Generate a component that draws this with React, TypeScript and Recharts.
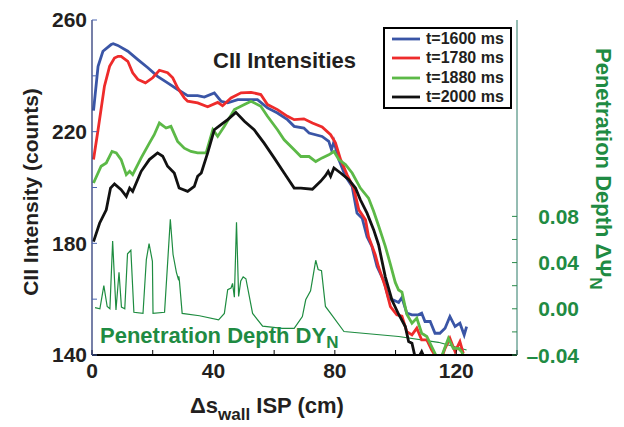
import React from 'react';
import { LineChart, Line, XAxis, YAxis, Legend } from 'recharts';

// [x (cm), counts]
const t1600: [number, number][] = [
  [0.5, 227.5], [2.0, 243.4], [3.6, 248.8], [6.3, 251.2], [7.0, 251.5], [8.5, 250.9], [11.8, 248.8],
  [15.1, 245.8], [18.4, 242.9], [21.6, 239.8], [24.9, 237.5], [28.2, 235.1], [31.5, 232.9], [34.8, 232.9],
  [37.0, 232.4], [40.3, 233.9], [42.5, 230.9], [44.7, 230.3], [48.0, 231.5], [51.3, 231.5], [54.5, 231.5],
  [57.8, 228.5], [61.1, 226.7], [64.4, 224.3], [66.6, 221.9], [69.8, 221.3], [71.5, 219.5], [75.8, 218.3],
  [78.0, 216.5], [78.9, 213.5], [79.7, 216.5], [81.3, 210.0], [83.5, 204.0], [85.7, 200.4], [87.3, 190.8],
  [89.0, 189.0], [90.6, 182.4], [92.2, 178.9], [93.9, 171.7], [96.1, 166.6], [97.7, 160.3], [99.3, 159.7],
  [101.0, 158.8], [102.1, 160.6], [103.7, 155.0], [105.4, 154.4], [107.5, 154.4], [108.6, 155.0],
  [109.7, 152.0], [111.4, 152.0], [113.0, 147.8], [114.6, 147.8], [116.3, 149.6], [117.9, 153.8],
  [119.6, 150.2], [121.2, 151.4], [122.6, 147.2], [123.4, 150.2],
];

const t1780: [number, number][] = [
  [0.5, 210.0], [2.0, 220.7], [4.1, 236.3], [5.8, 243.4], [7.4, 246.4], [8.6, 247.0], [9.6, 247.0],
  [11.8, 245.2], [13.4, 241.1], [15.1, 238.7], [17.6, 237.5], [20.0, 239.3], [22.2, 242.0], [24.9, 241.1],
  [26.6, 239.3], [28.2, 235.7], [30.4, 232.1], [31.5, 230.9], [34.8, 230.3], [38.1, 228.9], [41.4, 230.5],
  [43.0, 229.3], [45.8, 232.1], [49.1, 233.9], [52.4, 234.1], [55.6, 233.3], [57.8, 229.7], [61.1, 227.9],
  [64.4, 225.5], [66.6, 224.3], [69.8, 224.6], [72.6, 223.1], [75.8, 221.7], [78.6, 218.9], [80.2, 216.0],
  [81.9, 210.0], [84.0, 204.6], [86.2, 199.8], [87.9, 192.0], [90.1, 188.4], [91.1, 182.4], [93.3, 175.9],
  [94.4, 171.5], [96.6, 164.5], [98.3, 157.3], [100.4, 154.4], [102.1, 153.9], [103.7, 148.4],
  [105.4, 147.2], [107.0, 149.6], [108.6, 145.4], [110.3, 145.4], [111.9, 141.8], [113.5, 139.0],
  [115.2, 139.0], [116.3, 142.4], [117.9, 146.0], [119.6, 141.2], [121.2, 144.8], [122.3, 140.6],
];

const t1880: [number, number][] = [
  [0.5, 201.6], [3.0, 207.6], [4.7, 208.8], [6.6, 212.9], [8.0, 212.4], [9.6, 210.0], [11.3, 204.6],
  [12.4, 205.8], [13.4, 204.6], [16.2, 210.6], [18.9, 215.9], [20.5, 218.9], [22.2, 223.1], [24.4, 221.3],
  [26.0, 221.9], [28.2, 216.5], [30.4, 214.1], [32.6, 212.9], [34.8, 212.4], [37.6, 212.4], [39.8, 220.7],
  [41.4, 218.3], [43.6, 221.9], [46.9, 227.9], [50.2, 229.7], [52.4, 230.9], [55.6, 229.1], [57.8, 225.5],
  [61.1, 220.7], [63.3, 217.1], [66.6, 213.5], [68.8, 211.1], [71.5, 211.1], [73.7, 209.3], [75.8, 210.6],
  [78.0, 211.7], [79.7, 212.9], [81.3, 210.0], [83.5, 208.2], [85.7, 205.2], [88.4, 199.8], [91.1, 196.2],
  [92.8, 191.4], [94.4, 186.3], [96.6, 179.0], [98.3, 172.5], [99.9, 166.0], [101.0, 163.3], [102.1, 162.5],
  [103.7, 154.6], [105.4, 151.4], [107.0, 153.2], [108.6, 147.8], [110.3, 146.6], [111.9, 143.0],
  [113.5, 139.4], [115.2, 139.6], [117.4, 146.0], [119.0, 142.4], [120.7, 142.4], [121.7, 141.2], [122.6, 139.4],
];

const t2000: [number, number][] = [
  [0.5, 180.6], [2.5, 187.2], [4.7, 192.0], [6.1, 199.8], [7.4, 201.3], [9.6, 199.2], [11.3, 196.8],
  [12.4, 199.8], [13.4, 198.6], [16.2, 205.8], [18.9, 210.0], [21.6, 212.4], [23.3, 211.2], [24.9, 207.6],
  [27.1, 205.2], [28.7, 199.8], [31.5, 198.6], [33.7, 200.4], [34.8, 204.0], [36.0, 205.2], [38.1, 212.4],
  [40.3, 220.7], [42.5, 222.5], [44.7, 224.3], [47.4, 226.9], [50.2, 223.7], [53.4, 220.7], [56.7, 215.9],
  [60.0, 210.6], [63.3, 205.2], [66.6, 199.8], [68.8, 199.8], [72.6, 199.4], [75.3, 202.2], [76.9, 204.2],
  [77.8, 205.8], [78.6, 204.0], [79.7, 207.0], [81.9, 205.2], [84.6, 202.8], [86.8, 199.8], [88.4, 195.6],
  [90.6, 190.8], [92.8, 184.8], [94.4, 179.5], [96.6, 168.1], [98.8, 159.7], [101.0, 154.6], [103.2, 150.2],
  [104.3, 144.8], [105.4, 144.2], [106.4, 139.4], [107.5, 139.0], [108.6, 141.2], [109.7, 138.5],
];

// [x (cm), penetration depth ΔΨN]
const depth: [number, number][] = [
  [1.0, 0.001], [2.6, 0.0], [3.9, 0.02], [5.0, 0.002], [5.9, 0.0], [6.8, 0.0586], [7.9, -0.001],
  [8.9, 0.0316], [9.7, 0.0015], [10.8, 0.0], [11.7, 0.0476], [12.8, 0.0507], [13.8, -0.003], [16.8, -0.004],
  [17.9, 0.0426], [18.8, 0.0565], [19.9, 0.041], [20.1, -0.004], [23.9, -0.003], [25.8, 0.0774],
  [26.7, 0.047], [27.8, 0.0316], [28.4, 0.026], [28.6, 0.028], [28.8, 0.024], [29.7, -0.004],
  [35.4, -0.006], [41.7, -0.0096], [43.6, -0.004], [44.7, 0.0165], [45.8, 0.018], [46.3, 0.022],
  [46.9, 0.01], [47.6, 0.075], [48.3, 0.0107], [49.0, 0.024], [49.8, 0.0276], [50.7, 0.026],
  [52.9, -0.004], [56.2, -0.015], [62.7, -0.017], [66.6, -0.017], [69.3, -0.0067], [70.4, 0.0078],
  [72.0, 0.0155], [73.7, 0.042], [74.5, 0.034], [75.6, 0.033], [76.9, 0.002], [78.6, -0.004],
  [83.0, -0.0197], [101.0, -0.024], [114.1, -0.029], [123.4, -0.0357],
];

const xTicks = [0, 20, 40, 60, 80, 100, 120, 140];
const leftTicks = [140, 160, 180, 200, 220, 240, 260];
const rightTicks = [-0.04, -0.02, 0, 0.02, 0.04, 0.06, 0.08];

const INK = '#231f20';
const GREEN_TXT = '#1f8b43';
const FONT = '"Liberation Sans", Arial, Helvetica, sans-serif';

const pts = (arr: [number, number][]) => arr.map(([x, y]) => ({ x, y }));

const fmtRight = (v: number) => {
  if (v === 0) return '0.00';
  return v < 0 ? '\u2013' + Math.abs(v).toFixed(2) : v.toFixed(2);
};

const RightTick = (props: any) => {
  const { x, y, payload } = props;
  const v = payload.value as number;
  if (Math.round(v * 100) % 4 !== 0) return null;
  return (
    <text x={x} y={y} dy="0.36em" textAnchor="end" fontSize={21} fontWeight="bold" fill={GREEN_TXT} fontFamily={FONT}>
      {fmtRight(v)}
    </text>
  );
};

const LegendBox = (props: any) => {
  const items = (props.payload || []).filter((p: any) => p.type !== 'none');
  return (
    <div style={{ border: '2px solid #000', background: '#fff', boxSizing: 'border-box', width: 129, height: 82 }}>
      {items.map((p: any) => (
        <div key={p.value} style={{ display: 'flex', alignItems: 'center', height: 19.5 }}>
          <svg width={28} height={6} style={{ marginLeft: 7, marginRight: 6 }}>
            <line x1={0} y1={3} x2={28} y2={3} stroke={p.color} strokeWidth={2.8} />
          </svg>
          <span style={{ fontSize: 16, fontWeight: 'bold', color: INK, fontFamily: FONT, lineHeight: 1 }}>{p.value}</span>
        </div>
      ))}
    </div>
  );
};

export default function App() {
  return (
    <div style={{ position: 'absolute', left: 0, top: 0, width: 624, height: 427, background: '#fff', fontFamily: FONT }}>
      <LineChart width={624} height={427} margin={{ top: 20, right: 0, bottom: 0, left: 0 }}>
        <XAxis
          xAxisId="b"
          type="number"
          dataKey="x"
          domain={[0, 140]}
          ticks={xTicks}
          allowDataOverflow
          height={72}
          tickSize={-5}
          tickMargin={13}
          tickFormatter={(v: number) => (v % 40 === 0 && v <= 120 ? String(v) : '')}
          axisLine={{ stroke: '#000', strokeWidth: 2 }}
          tickLine={{ stroke: '#000' }}
          tick={{ fontSize: 21, fontWeight: 'bold', fill: INK, fontFamily: FONT }}
        />
        <XAxis
          xAxisId="t"
          orientation="top"
          type="number"
          dataKey="x"
          domain={[0, 140]}
          ticks={xTicks}
          height={0}
          tickSize={-5}
          tick={false}
          axisLine={{ stroke: '#000' }}
          tickLine={{ stroke: '#000' }}
        />
        <YAxis
          yAxisId="l"
          domain={[140, 260]}
          ticks={leftTicks}
          allowDataOverflow
          width={92}
          tickSize={-5}
          tickMargin={10}
          tickFormatter={(v: number) => ((v - 140) % 40 === 0 ? String(v) : '')}
          axisLine={{ stroke: '#1c2a6e', strokeWidth: 1.2 }}
          tickLine={{ stroke: '#4a64b0' }}
          tick={{ fontSize: 21, fontWeight: 'bold', fill: INK, fontFamily: FONT }}
        />
        <YAxis
          yAxisId="lm"
          orientation="right"
          domain={[140, 260]}
          ticks={leftTicks}
          width={0}
          tickSize={-5}
          tick={false}
          axisLine={false}
          tickLine={{ stroke: '#4a64b0' }}
        />
        <YAxis
          yAxisId="r"
          orientation="right"
          domain={[-0.04, 0.25]}
          ticks={rightTicks}
          allowDataOverflow
          width={107}
          tickSize={-5}
          tickMargin={67}
          tick={<RightTick />}
          axisLine={{ stroke: '#2b7a66' }}
          tickLine={{ stroke: '#2b8a4a' }}
        />
        <Legend
          layout="vertical"
          align="center"
          verticalAlign="middle"
          wrapperStyle={{ top: 27, left: 383, width: 129, height: 82 }}
          content={<LegendBox />}
        />
        <Line
          xAxisId="b" yAxisId="r" data={pts(depth)} dataKey="y" name="depth" legendType="none"
          type="linear" dot={false} stroke="#1e8c40" strokeWidth={1.2} isAnimationActive={false}
        />
        <Line
          xAxisId="b" yAxisId="l" data={pts(t1600)} dataKey="y" name="t=1600 ms"
          type="linear" dot={false} stroke="#3a55a6" strokeWidth={2.8} isAnimationActive={false}
        />
        <Line
          xAxisId="b" yAxisId="l" data={pts(t1780)} dataKey="y" name="t=1780 ms"
          type="linear" dot={false} stroke="#ee2b2b" strokeWidth={2.8} isAnimationActive={false}
        />
        <Line
          xAxisId="b" yAxisId="l" data={pts(t1880)} dataKey="y" name="t=1880 ms"
          type="linear" dot={false} stroke="#5cb947" strokeWidth={2.8} isAnimationActive={false}
        />
        <Line
          xAxisId="b" yAxisId="l" data={pts(t2000)} dataKey="y" name="t=2000 ms"
          type="linear" dot={false} stroke="#111111" strokeWidth={2.8} isAnimationActive={false}
        />
        <text x={213} y={68} fontSize={22} fontWeight="bold" fill={INK} fontFamily={FONT}>CII Intensities</text>
        <text x={100} y={343} fontSize={22} fontWeight="bold" fill={GREEN_TXT} fontFamily={FONT}>
          Penetration Depth DY<tspan fontSize={17} dy={5}>N</tspan>
        </text>
        <text x={190} y={413} fontSize={22} fontWeight="bold" fill={INK} fontFamily={FONT}>
          Δs<tspan fontSize={17} dy={7}>wall</tspan><tspan dy={-7}> ISP (cm)</tspan>
        </text>
        <text
          transform="translate(38,192) rotate(-90)" textAnchor="middle"
          fontSize={21} fontWeight="bold" fill={INK} fontFamily={FONT}
        >
          CII Intensity (counts)
        </text>
        <text
          transform="translate(596,48) rotate(90)"
          fontSize={22} fontWeight="bold" fill={GREEN_TXT} fontFamily={FONT}
        >
          Penetration Depth ΔΨ<tspan fontSize={17} dy={6}>N</tspan>
        </text>
      </LineChart>
    </div>
  );
}
